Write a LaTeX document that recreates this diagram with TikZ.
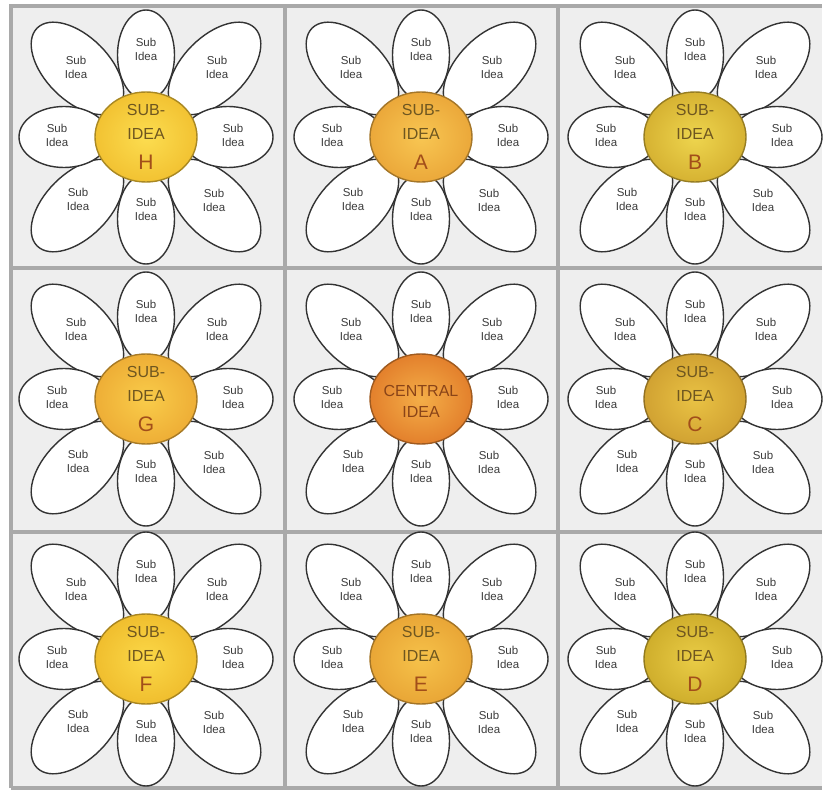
\documentclass[tikz,border=0pt]{standalone}
\usepackage{fontspec}
\setmainfont{Liberation Sans}
\definecolor{bg}{HTML}{EEEEEE}
\definecolor{gridgray}{HTML}{A9A9A9}
\definecolor{petaltxt}{HTML}{3C3C3C}
\definecolor{subtxt}{HTML}{6E5620}
\definecolor{letcol}{HTML}{A24E1A}
\definecolor{centtxt}{HTML}{8A4418}
\definecolor{hIn}{HTML}{FCDD50}\definecolor{hOut}{HTML}{F2C232}
\definecolor{aIn}{HTML}{F8C652}\definecolor{aOut}{HTML}{EBA83A}
\definecolor{bIn}{HTML}{EED54E}\definecolor{bOut}{HTML}{D6B232}
\definecolor{gIn}{HTML}{F9CC4A}\definecolor{gOut}{HTML}{EEAE36}
\definecolor{zIn}{HTML}{F4AE48}\definecolor{zOut}{HTML}{E3802C}
\definecolor{cIn}{HTML}{E9C244}\definecolor{cOut}{HTML}{D1A232}
\definecolor{fIn}{HTML}{FBD848}\definecolor{fOut}{HTML}{F0BE2E}
\definecolor{eIn}{HTML}{F6C24A}\definecolor{eOut}{HTML}{E9A636}
\definecolor{dIn}{HTML}{E9CC46}\definecolor{dOut}{HTML}{CFAE2C}
\tikzset{
  petal/.style={draw=black!80, fill=white, line width=1.4pt},
  ptext/.style={align=center, font=\fontsize{11.5}{14}\selectfont, text=petaltxt, inner sep=0pt},
  ctext/.style={font=\fontsize{16}{18}\selectfont, text=subtxt, inner sep=0pt},
  ltext/.style={font=\fontsize{21}{22}\selectfont, text=letcol, inner sep=0pt},
  gridline/.style={draw=gridgray, line width=3.5pt},
}
\newcommand\petals[1]{%
  \foreach \a in {45,135,225,315}
    \draw[petal, rotate=\a] (97pt,0pt) ellipse [x radius=57pt, y radius=32pt];
  \foreach \a/\r in {0/30.5,90/28.5,180/30.5,270/28.5}
    \draw[petal, rotate=\a] (82pt,0pt) ellipse [x radius=45pt, y radius=\r pt];
  \node[ptext] (#1-n) at (0,-88) {Sub\\Idea};
  \node[ptext] (#1-s) at (0,72) {Sub\\Idea};
  \node[ptext] (#1-w) at (-89,-2) {Sub\\Idea};
  \node[ptext] (#1-e) at (87,-2) {Sub\\Idea};
  \node[ptext] (#1-nw) at (-70,-70) {Sub\\Idea};
  \node[ptext] (#1-ne) at (71,-70) {Sub\\Idea};
  \node[ptext] (#1-sw) at (-68,62) {Sub\\Idea};
  \node[ptext] (#1-se) at (68,63) {Sub\\Idea};
}
\newcommand\centre[3]{%
  \shade[inner color=#2, outer color=#3] (0,0) ellipse [x radius=51pt, y radius=45pt];
  \draw[draw=#3!70!black, line width=1.4pt] (0,0) ellipse [x radius=51pt, y radius=45pt];
}
\newcommand\subflower[6]{% name, x, y, inner, outer, letter
  \begin{scope}[shift={(#2,#3)}]
    \petals{#1}
    \centre{#1}{#4}{#5}
    \node[ctext] (#1-l1) at (0,-27) {SUB-};
    \node[ctext] (#1-l2) at (0,-3) {IDEA};
    \node[ltext] (#1-l3) at (0,25) {#6};
  \end{scope}}
\begin{document}
\begin{tikzpicture}[x=1pt,y=-1pt]
  \useasboundingbox (0,0) rectangle (823,794);
  \fill[white] (0,0) rectangle (823,794);
  \fill[bg] (11,6) rectangle (822,788);
  \draw[gridline] (285,6) -- (285,788);
  \draw[gridline] (558,6) -- (558,788);
  \draw[gridline] (11,268) -- (822,268);
  \draw[gridline] (11,532) -- (822,532);
  \draw[gridline] (11,788) -- (11,6) -- (822,6);
  \draw[gridline] (11,788) -- (822,788);
  \subflower{H}{146}{137}{hIn}{hOut}{H}
  \subflower{A}{421}{137}{aIn}{aOut}{A}
  \subflower{B}{695}{137}{bIn}{bOut}{B}
  \subflower{G}{146}{399}{gIn}{gOut}{G}
  \subflower{C}{695}{399}{cIn}{cOut}{C}
  \subflower{F}{146}{659}{fIn}{fOut}{F}
  \subflower{E}{421}{659}{eIn}{eOut}{E}
  \subflower{D}{695}{659}{dIn}{dOut}{D}
  \begin{scope}[shift={(421,399)}]
    \petals{Z}
    \centre{Z}{zIn}{zOut}
    \node[ctext, text=centtxt] (Z-l1) at (0,-8) {CENTRAL};
    \node[ctext, text=centtxt] (Z-l2) at (0,13) {IDEA};
  \end{scope}
\end{tikzpicture}
\end{document}
